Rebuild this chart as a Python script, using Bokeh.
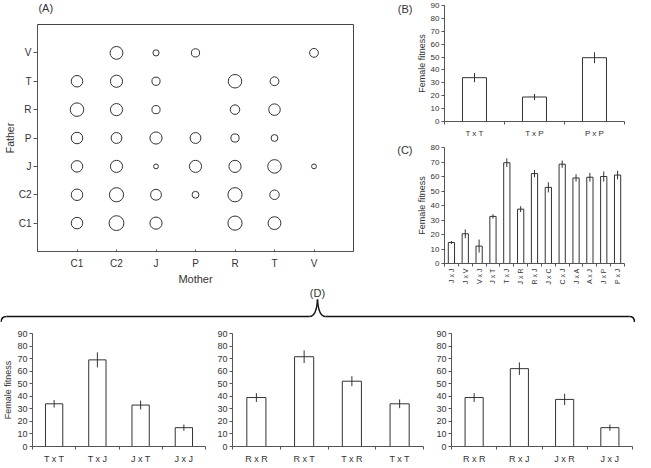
import numpy as np
from bokeh.plotting import figure
from bokeh.layouts import row, column
from bokeh.models import FixedTicker, Range1d
from bokeh.core.properties import value
from bokeh.embed import file_html
from bokeh.resources import INLINE

FONT = "Liberation Sans"
TXT = "#333333"
AXC = "#555555"
BAR = "#333333"

# ---------------- Panel A data (mother x father crosses, circle value) -------------
genotypes = ["C1", "C2", "J", "P", "R", "T", "V"]
a_mother = ["C2", "J", "P", "V",
            "C1", "C2", "J", "R", "T",
            "C1", "C2", "J", "R", "T",
            "C1", "C2", "J", "P", "R", "T",
            "C1", "C2", "J", "P", "R", "T", "V",
            "C1", "C2", "J", "P", "R", "T",
            "C1", "C2", "J", "R", "T"]
a_father = ["V"] * 4 + ["T"] * 5 + ["R"] * 5 + ["P"] * 6 + ["J"] * 7 + ["C2"] * 6 + ["C1"] * 5
a_value = [80, 40, 52, 56,
           72, 76, 52, 84, 56,
           84, 76, 52, 60, 72,
           72, 68, 76, 68, 52, 44,
           72, 76, 32, 76, 76, 84, 32,
           72, 88, 68, 44, 88, 60,
           72, 92, 76, 88, 80]

# ---------------- Panel B data ----------------
b_cats = ["T x T", "T x P", "P x P"]
b_vals = [34, 19, 49.5]
b_errs = [3.5, 2.4, 4.2]

# ---------------- Panel C data ----------------
c_cats = ["J x J", "J x V", "V x J", "J x T", "T x J", "J x R", "R x J",
          "J x C", "C x J", "J x A", "A x J", "J x P", "P x J"]
c_vals = [14.5, 20.5, 12, 32.5, 69.5, 37.5, 62, 52.5, 68.5, 59, 59.5, 60, 61]
c_errs = [1, 3, 4.5, 1.5, 3, 2, 2.5, 3.5, 2.5, 2.5, 3, 3.5, 3]

# ---------------- Panel D data ----------------
d1_cats = ["T x T", "T x J", "J x T", "J x J"]
d1_vals = [34, 69, 33, 15]
d1_errs = [3, 6, 3.5, 2.5]
d2_cats = ["R x R", "R x T", "T x R", "T x T"]
d2_vals = [39, 71.5, 52, 34]
d2_errs = [3.5, 5, 4, 3.5]
d3_cats = ["R x R", "R x J", "J x R", "J x J"]
d3_vals = [39, 62, 37.5, 15]
d3_errs = [3.5, 5, 4.5, 2.5]


def base_fig(w, h, xr, yr, **borders):
    p = figure(width=w, height=h, x_range=xr, y_range=yr, output_backend="svg",
               toolbar_location=None, **borders)
    p.grid.visible = False
    p.outline_line_color = None
    for ax in p.axis:
        ax.axis_line_color = AXC
        ax.major_tick_line_color = AXC
        ax.minor_tick_line_color = AXC
        ax.major_label_text_font = FONT
        ax.major_label_text_color = TXT
        ax.axis_label_text_font = FONT
        ax.axis_label_text_color = TXT
        ax.axis_label_text_font_style = "normal"
    return p


def blank_fig(w, h):
    p = figure(width=w, height=h, x_range=Range1d(0, w), y_range=Range1d(0, h),
               output_backend="svg", toolbar_location=None, min_border=0,
               x_axis_location=None, y_axis_location=None)
    p.grid.visible = False
    p.outline_line_color = None
    return p


def put_text(p, x, y, t, size="11px", align="left"):
    p.text(x=[x], y=[y], text=[t], text_font=value(FONT), text_font_size=size,
           text_color=TXT, text_align=align, text_baseline="middle")


def bar_panel(w, h, cats, vals, errs, ymax, ystep, bar_w, borders, tick_fs, ylab=None,
              rotate=False):
    n = len(cats)
    p = base_fig(w, h, Range1d(0, n), Range1d(0, ymax), **borders)
    xs = [i + 0.5 for i in range(n)]
    p.vbar(x=xs, top=vals, width=bar_w, bottom=0, fill_color="white",
           line_color=BAR, line_width=1)
    lo = [v - e for v, e in zip(vals, errs)]
    hi = [v + e for v, e in zip(vals, errs)]
    p.segment(x0=xs, y0=lo, x1=xs, y1=hi, line_color=BAR, line_width=1)
    xa = p.xaxis[0]
    xa.ticker = FixedTicker(ticks=xs, minor_ticks=list(range(n + 1)))
    xa.major_label_overrides = {x: c for x, c in zip(xs, cats)}
    xa.major_tick_line_color = None
    xa.major_tick_out = 0
    xa.minor_tick_out = 3
    xa.minor_tick_in = 0
    xa.major_label_standoff = 4
    xa.major_label_text_font_size = tick_fs
    if rotate:
        xa.major_label_orientation = np.pi / 2
        xa.major_label_standoff = 2
    ya = p.yaxis[0]
    ya.ticker = FixedTicker(ticks=list(range(0, ymax + 1, ystep)))
    ya.major_tick_out = 3
    ya.major_tick_in = 0
    ya.major_label_standoff = 2
    ya.major_label_text_font_size = tick_fs
    if ylab:
        ya.axis_label = ylab
        ya.axis_label_text_font_size = "9px"
        ya.axis_label_standoff = 1
    return p


# ---------------- Panel A ----------------
stripA = blank_fig(357, 14)
put_text(stripA, 1, 7, "(A)")

pA = base_fig(357, 273, Range1d(0, 8), Range1d(0, 8), min_border_left=30,
              min_border_right=4, min_border_top=10, min_border_bottom=33)
pA.outline_line_color = "#444444"
ax_x = [genotypes.index(m) + 1 for m in a_mother]
ax_y = [genotypes.index(f) + 1 for f in a_father]
a_size = [v / 6.0 - 0.5 for v in a_value]
pA.scatter(x=ax_x, y=ax_y, size=a_size, marker="circle", fill_color=None,
           line_color="#333333", line_width=1)
pA.xaxis.ticker = FixedTicker(ticks=list(range(1, 8)))
pA.xaxis.major_label_overrides = {i + 1: g for i, g in enumerate(genotypes)}
pA.xaxis.major_tick_out = 0
pA.xaxis.major_label_standoff = 6
pA.xaxis.major_label_text_font_size = "10px"
pA.xaxis.axis_label = "Mother"
pA.xaxis.axis_label_text_font_size = "11px"
pA.xaxis.axis_label_standoff = 1
pA.yaxis.ticker = FixedTicker(ticks=list(range(1, 8)))
pA.yaxis.major_label_overrides = {i + 1: g for i, g in enumerate(genotypes)}
pA.yaxis.major_tick_out = 4
pA.yaxis.major_tick_in = 0
pA.yaxis.major_label_standoff = 2
pA.yaxis.major_label_text_font_size = "10px"
pA.yaxis.major_label_orientation = "horizontal"
pA.yaxis.axis_label = "Father"
pA.yaxis.axis_label_text_font_size = "10.5px"
pA.yaxis.axis_label_standoff = 0

# ---------------- labels (B), (C) ----------------
labBC = blank_fig(56, 287)
put_text(labBC, 55, 279, "(B)", align="right")
put_text(labBC, 55, 138, "(C)", align="right")

# ---------------- Panel B ----------------
pB = bar_panel(222, 140, b_cats, b_vals, b_errs, 90, 10, 0.4,
               dict(min_border_left=26, min_border_right=6, min_border_top=5,
                    min_border_bottom=15), "8px", ylab="Female fitness")

# ---------------- Panel C ----------------
pC = bar_panel(222, 147, c_cats, c_vals, c_errs, 80, 10, 0.45,
               dict(min_border_left=26, min_border_right=11, min_border_top=7,
                    min_border_bottom=20), "7px", ylab="Female fitness", rotate=True)
pC.yaxis.major_label_text_font_size = "8px"

# ---------------- Brace ----------------
pBr = blank_fig(635, 35)
BC = "#111111"
pBr.quadratic(x0=[0.5, 309, 317, 629], y0=[0, 6, 23, 6],
              x1=[6, 317, 325, 634], y1=[6, 23, 6, 0.5],
              cx=[0.5, 316, 318, 634], cy=[6, 6, 6, 6], line_color=BC, line_width=1.5)
pBr.segment(x0=[6, 325], y0=[6, 6], x1=[309, 629], y1=[6, 6], line_color=BC, line_width=1.5)
put_text(pBr, 317, 29.5, "(D)", align="center")

# ---------------- Panel D ----------------
pD1 = bar_panel(214, 144, d1_cats, d1_vals, d1_errs, 90, 10, 0.4,
                dict(min_border_left=27, min_border_right=9, min_border_top=11,
                     min_border_bottom=14), "9px", ylab="Female fitness")
pD2 = bar_panel(219, 144, d2_cats, d2_vals, d2_errs, 90, 10, 0.4,
                dict(min_border_left=16, min_border_right=10, min_border_top=11,
                     min_border_bottom=14), "9px")
pD3 = bar_panel(202, 144, d3_cats, d3_vals, d3_errs, 90, 10, 0.4,
                dict(min_border_left=15, min_border_right=3, min_border_top=11,
                     min_border_bottom=14), "9px")

layout = column(row(column(stripA, pA), labBC, column(pB, pC)), pBr, row(pD1, pD2, pD3))

open("out.html", "w").write(file_html(layout, INLINE))
